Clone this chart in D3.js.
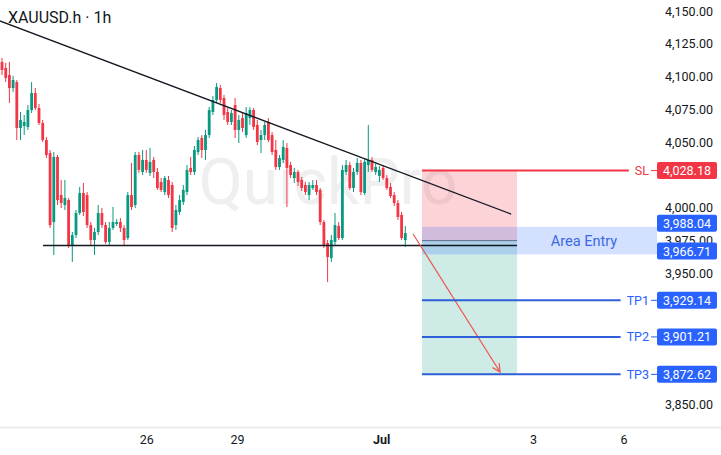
<!DOCTYPE html>
<html>
<head>
<meta charset="utf-8">
<script src="https://cdn.jsdelivr.net/npm/d3@7"></script>
<style>
body { margin: 0; background: #fff; }
svg { display: block; font-family: Roboto, "Noto Sans", sans-serif; }
</style>
</head>
<body>
<div id="chart"></div>
<script>
// candles (1h bars)
var opens = [4111.1,4106.5,4101.1,4091.2,4095.8,4060.7,4062.2,4061.5,4074.4,4087.4,
  4075.9,4064.5,4051.5,4041.6,3988.9,4038.6,4009.5,4001.9,4005.7,3971.4,
  3979.0,3995.8,4011.1,4009.5,3986.6,3975.2,3981.3,3995.8,3986.6,3973.7,
  3984.4,3987.4,3988.9,3984.4,3976.7,4009.5,4001.9,4040.1,4027.1,4036.3,
  4026.4,4036.3,4027.1,4019.5,4011.8,4021.0,4017.2,3986.6,3996.6,4004.2,
  4011.8,4030.2,4027.1,4042.4,4053.1,4043.9,4055.3,4072.9,4082.1,4091.2,
  4083.6,4072.9,4065.3,4078.2,4059.2,4068.3,4055.3,4068.3,4074.4,4063.0,
  4051.5,4055.3,4065.3,4055.3,4043.9,4030.9,4036.3,4045.4,4032.4,4022.5,
  4027.1,4021.0,4017.2,4009.5,4014.9,4017.2,4013.4,3988.9,3972.9,3961.4,
  3973.7,3985.9,3976.7,4027.1,4032.4,4014.9,4027.1,4034.0,4011.1,4032.4,
  4036.3,4027.1,4024.1,4030.2,4022.5,4015.7,4009.5,4003.4,3994.3,3975.2];
var highs = [4114.1,4110.3,4111.1,4100.4,4097.3,4072.9,4070.6,4078.2,4095.8,4091.2,
  4079.0,4066.8,4053.8,4043.9,4042.4,4040.1,4021.0,4021.0,4007.2,3981.3,
  3998.1,4015.7,4018.7,4011.8,3988.9,3984.4,4001.9,3999.6,3988.9,3988.9,
  4000.4,3991.2,3992.0,3986.6,4011.8,4034.0,4042.4,4042.4,4043.9,4043.9,
  4045.4,4038.6,4030.2,4022.5,4024.1,4024.1,4019.5,4001.9,4009.5,4017.2,
  4032.4,4038.6,4046.9,4053.8,4055.3,4059.2,4076.7,4085.1,4095.0,4093.5,
  4085.9,4075.9,4074.4,4083.6,4070.6,4072.1,4076.7,4076.7,4075.9,4066.8,
  4059.2,4065.3,4068.3,4057.6,4051.5,4040.1,4051.5,4049.2,4034.8,4030.2,
  4028.7,4023.3,4019.5,4019.5,4021.0,4021.0,4014.9,3990.5,3975.2,3979.0,
  3995.8,3988.9,4032.4,4036.3,4034.8,4030.2,4037.8,4036.3,4037.8,4063.0,
  4038.6,4034.0,4031.7,4032.4,4024.8,4018.7,4011.8,4005.7,3996.6,3985.9];
var lows = [4101.1,4095.8,4079.8,4088.2,4051.5,4051.5,4055.3,4059.2,4072.1,4074.4,
  4063.0,4050.0,4037.8,3984.4,3963.7,4001.9,3999.6,3998.1,3969.1,3958.4,
  3976.7,3994.3,3993.5,3984.4,3971.4,3963.7,3979.0,3984.4,3972.2,3971.4,
  3982.9,3985.9,3981.3,3971.4,3975.2,3998.1,3999.6,4026.4,4024.8,4026.4,
  4024.1,4022.5,4013.4,4011.8,4009.5,4007.2,3981.3,3982.9,3994.3,4001.9,
  4009.5,4024.8,4024.8,4040.1,4037.8,4036.3,4053.1,4070.6,4079.8,4079.8,
  4066.8,4063.0,4063.0,4053.1,4049.2,4057.6,4053.1,4063.0,4059.2,4047.7,
  4041.6,4051.5,4050.0,4040.1,4028.7,4028.7,4034.0,4000.4,4022.5,4018.7,
  4016.4,4012.6,4009.5,4005.7,4013.4,4009.5,3986.6,3969.1,3943.1,3958.4,
  3971.4,3975.2,3975.2,4024.8,4013.4,4011.8,4024.8,4009.5,4009.5,4027.1,
  4027.1,4024.8,4019.5,4021.0,4013.4,4007.2,4001.1,3990.5,3975.2,3969.9];
var closes = [4105.0,4098.9,4091.2,4097.3,4060.7,4066.8,4065.3,4074.4,4087.4,4075.9,
  4064.5,4051.5,4040.1,3986.6,4038.6,4005.7,4003.4,4007.2,3971.4,3979.0,
  3995.8,4011.1,3996.6,3986.6,3975.2,3981.3,3995.8,3986.6,3973.7,3984.4,
  3988.9,3988.9,3984.4,3975.2,4009.5,4000.4,4040.1,4028.7,4036.3,4028.7,
  4034.8,4027.1,4014.9,4013.4,4022.5,4009.5,3984.4,3998.1,4005.7,4013.4,
  4028.7,4027.1,4043.9,4051.5,4043.9,4055.3,4074.4,4082.1,4092.0,4082.1,
  4070.6,4065.3,4072.1,4059.2,4066.8,4060.7,4072.1,4074.4,4061.5,4050.0,
  4055.3,4063.0,4051.5,4042.4,4030.9,4037.8,4046.2,4030.2,4024.8,4027.1,
  4019.5,4014.9,4011.8,4017.2,4017.2,4011.8,3988.9,3971.4,3962.2,3975.2,
  3986.6,3976.7,4028.7,4032.4,4014.9,4027.1,4034.0,4011.8,4034.8,4036.3,
  4028.7,4030.9,4028.7,4022.5,4014.9,4008.8,4003.4,3992.8,3976.7,3980.5];

// axis (labels hidden behind the price tags are left out)
var tickIndex = [39, 63.5, 102.5, 143.5, 168];
var tickLabels = ["26", "29", "Jul", "3", "6"];
var priceTicks = [4150, 4125, 4100, 4075, 4050, 4000, 3975, 3950, 3850];

// drawings
var trendLine = [[-0.6, 4142.4], [137.6, 3995.0]];
var supportLine = [[11.1, 3971.0], [139.2, 3971.0]];
var tradeSpan = [113.5, 139.2];
var entryPrice = 3974.7;
var entryZone = [3985.2, 3964.2];
var entryTags = [3988.04, 3966.71];
var levelNames = ["SL", "TP1", "TP2", "TP3"];
var levelPrices = [4028.18, 3929.14, 3901.21, 3872.62];
var arrowPts = [[111.1, 3979.8], [134.6, 3874.4]];

var W = 721, H = 455;
var up = "#089981", down = "#f23645", blue = "#2962ff";

var svg = d3.select("#chart").append("svg")
  .attr("width", W)
  .attr("height", H);

var x = d3.scaleLinear().domain([0, 109]).range([2, 405.3]);
var y = d3.scaleLinear().domain([3850, 4150]).range([404, 11]);

// watermark
svg.append("text")
  .attr("x", 328).attr("y", 204)
  .attr("text-anchor", "middle")
  .style("font-size", "64px")
  .style("fill", "#efefef")
  .text("QuickPro");

// position boxes
var xa = x(tradeSpan[0]), xb = x(tradeSpan[1]);
svg.append("rect")
  .attr("x", xa).attr("width", xb - xa)
  .attr("y", y(levelPrices[0])).attr("height", y(entryPrice) - y(levelPrices[0]))
  .style("fill", "rgba(242,54,69,0.22)");
svg.append("rect")
  .attr("x", xa).attr("width", xb - xa)
  .attr("y", y(entryPrice)).attr("height", y(levelPrices[3]) - y(entryPrice))
  .style("fill", "rgba(8,153,129,0.2)");

// entry band
svg.append("rect")
  .attr("x", xa).attr("width", 657 - xa)
  .attr("y", y(entryZone[0])).attr("height", y(entryZone[1]) - y(entryZone[0]))
  .style("fill", "rgba(41,98,255,0.2)");
svg.append("line")
  .attr("x1", xa).attr("x2", xb)
  .attr("y1", y(entryPrice)).attr("y2", y(entryPrice))
  .style("stroke", "#5d6b8c").style("stroke-width", 1);
svg.append("text")
  .attr("x", 584).attr("y", y(entryPrice)).attr("dy", "0.35em")
  .attr("text-anchor", "middle")
  .style("font-size", "14.5px")
  .style("fill", "#3b68e3")
  .text("Area Entry");

// candles
var idx = d3.range(closes.length);
var candles = svg.append("g");
candles.selectAll("line")
  .data(idx).enter().append("line")
  .attr("x1", function(i) { return x(i); })
  .attr("x2", function(i) { return x(i); })
  .attr("y1", function(i) { return y(highs[i]); })
  .attr("y2", function(i) { return y(lows[i]); })
  .style("stroke", function(i) { return closes[i] >= opens[i] ? up : down; })
  .style("stroke-width", 1);
candles.selectAll("rect")
  .data(idx).enter().append("rect")
  .attr("x", function(i) { return x(i) - 1.4; })
  .attr("width", 2.8)
  .attr("y", function(i) { return y(Math.max(opens[i], closes[i])); })
  .attr("height", function(i) { return Math.max(1, Math.abs(y(opens[i]) - y(closes[i]))); })
  .style("fill", function(i) { return closes[i] >= opens[i] ? up : down; });

// trend + support
var line = d3.line().x(function(d) { return x(d[0]); }).y(function(d) { return y(d[1]); });
svg.append("path").attr("d", line(trendLine))
  .style("fill", "none").style("stroke", "#131722").style("stroke-width", 1.3);
svg.append("path").attr("d", line(supportLine))
  .style("fill", "none").style("stroke", "#131722").style("stroke-width", 1.3);

// arrow
svg.append("defs").append("marker")
  .attr("id", "head")
  .attr("markerUnits", "userSpaceOnUse")
  .attr("markerWidth", 14).attr("markerHeight", 14)
  .attr("refX", 9).attr("refY", 5)
  .attr("orient", "auto")
  .append("path")
  .attr("d", "M1,1 L9,5 L1,9")
  .style("fill", "none").style("stroke", "#ef5350").style("stroke-width", 1.2);
svg.append("path").attr("d", line(arrowPts))
  .attr("marker-end", "url(#head)")
  .style("fill", "none").style("stroke", "#ef5350").style("stroke-width", 1.2);

// price axis
var yAxis = svg.append("g")
  .attr("transform", "translate(650,0)")
  .call(d3.axisRight(y).tickValues(priceTicks).tickSize(0).tickFormat(d3.format(",.2f")));
yAxis.select(".domain").remove();
yAxis.attr("font-family", null);
yAxis.selectAll("text")
  .attr("x", 63)
  .attr("text-anchor", "end")
  .style("font-size", "12.5px")
  .style("fill", "#131722");

// time axis
svg.append("line")
  .attr("x1", 0).attr("x2", W).attr("y1", 427.5).attr("y2", 427.5)
  .style("stroke", "#e6e8ee").style("stroke-width", 1.5);
var xAxis = svg.append("g")
  .attr("transform", "translate(0,432)")
  .call(d3.axisBottom(x).tickValues(tickIndex).tickSize(0)
    .tickFormat(function(d, i) { return tickLabels[i]; }));
xAxis.select(".domain").remove();
xAxis.attr("font-family", null);
xAxis.selectAll("text")
  .style("font-size", "12.5px")
  .style("fill", "#131722")
  .style("font-weight", function(d, i) { return tickLabels[i] == "Jul" ? "bold" : "normal"; });

// level lines with labels and price tags
levelNames.forEach(function(name, k) {
  var p = levelPrices[k], yy = y(p);
  var col = k == 0 ? down : "#2f5fd8";
  var lab = svg.append("text")
    .attr("x", 649).attr("y", yy).attr("dy", "0.35em")
    .attr("text-anchor", "end")
    .style("font-size", "12.5px")
    .style("fill", k == 0 ? down : blue)
    .text(name);
  var lw = lab.node().getComputedTextLength();
  svg.append("line")
    .attr("x1", xa).attr("x2", 649 - lw - 6)
    .attr("y1", yy).attr("y2", yy)
    .style("stroke", col).style("stroke-width", 2);
  svg.append("line")
    .attr("x1", 651).attr("x2", 657)
    .attr("y1", yy).attr("y2", yy)
    .style("stroke", col).style("stroke-width", 1);
});

var tagPrices = levelPrices.concat(entryTags);
tagPrices.forEach(function(p, k) {
  var yy = y(p);
  svg.append("rect")
    .attr("x", 657).attr("y", yy - 8.5)
    .attr("width", 60).attr("height", 17)
    .attr("rx", 2)
    .style("fill", k == 0 ? down : blue);
  svg.append("text")
    .attr("x", 687).attr("y", yy).attr("dy", "0.36em")
    .attr("text-anchor", "middle")
    .style("font-size", "12.5px")
    .style("fill", "#fff")
    .text(d3.format(",.2f")(p));
});

// title
svg.append("text")
  .attr("x", 8).attr("y", 23)
  .style("font-size", "16px")
  .style("fill", "#131722")
  .text("XAUUSD.h \u00b7 1h");
</script>
</body>
</html>
